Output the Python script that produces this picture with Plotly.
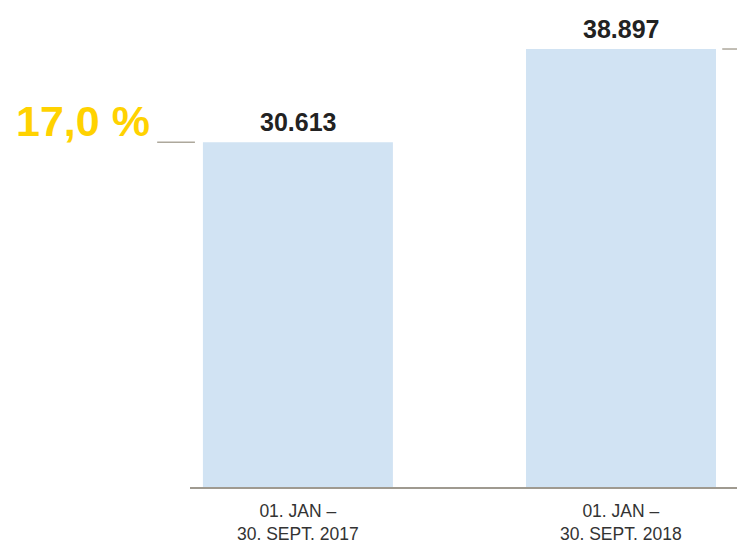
import plotly.graph_objects as go

categories = ["01. JAN –<br>30. SEPT. 2017", "01. JAN –<br>30. SEPT. 2018"]
values = [30613, 38897]
value_labels = ["30.613", "38.897"]
growth_label = "17,0 %"

x_pos = [0, 1]

fig = go.Figure()
fig.add_trace(go.Bar(
    x=x_pos, y=values, width=0.588,
    marker=dict(color="#D1E3F3", line=dict(width=0)),
    hoverinfo="skip",
))

# value labels
for xp, v, lbl in zip(x_pos, values, value_labels):
    fig.add_annotation(x=xp, y=v, xref="x", yref="y", text=f"<b>{lbl}</b>",
                       showarrow=False, yanchor="bottom", yshift=4,
                       font=dict(family="Liberation Sans, Arial", size=25, color="#222222"))
# category labels
for xp, c in zip(x_pos, categories):
    fig.add_annotation(x=xp, y=0, xref="x", yref="y", text=c,
                       showarrow=False, yanchor="top", yshift=-12,
                       font=dict(family="Liberation Sans, Arial", size=17.5, color="#333333"))

# growth label
fig.add_annotation(x=-0.0695, y=values[0], xref="paper", yref="y",
                   text=f"<b>{growth_label}</b>", showarrow=False,
                   xanchor="right", yanchor="bottom", yshift=-5,
                   font=dict(family="Liberation Sans, Arial", size=43, color="#FFD200"))

# tick marks
fig.add_shape(type="line", xref="paper", yref="y", x0=-0.060, x1=0.009,
              y0=values[0], y1=values[0], line=dict(color="#ADA89C", width=1.5))
fig.add_shape(type="line", xref="paper", yref="y", x0=0.973, x1=1.0,
              y0=values[1], y1=values[1], line=dict(color="#ADA89C", width=1.5))

fig.update_layout(
    width=737, height=546,
    margin=dict(l=190, r=0, t=0, b=59),
    paper_bgcolor="white", plot_bgcolor="white",
    showlegend=False,
    xaxis=dict(range=[-0.334, 1.359], showticklabels=False, showgrid=False,
               zeroline=False, showline=True, linecolor="#9F9A90", linewidth=2,
               ticks=""),
    yaxis=dict(range=[0, 43250], visible=False, showgrid=False, zeroline=False),
)

fig.write_html("out.html", config={"displayModeBar": False},
               post_script="document.body.style.margin='0';document.body.style.overflow='hidden';")
